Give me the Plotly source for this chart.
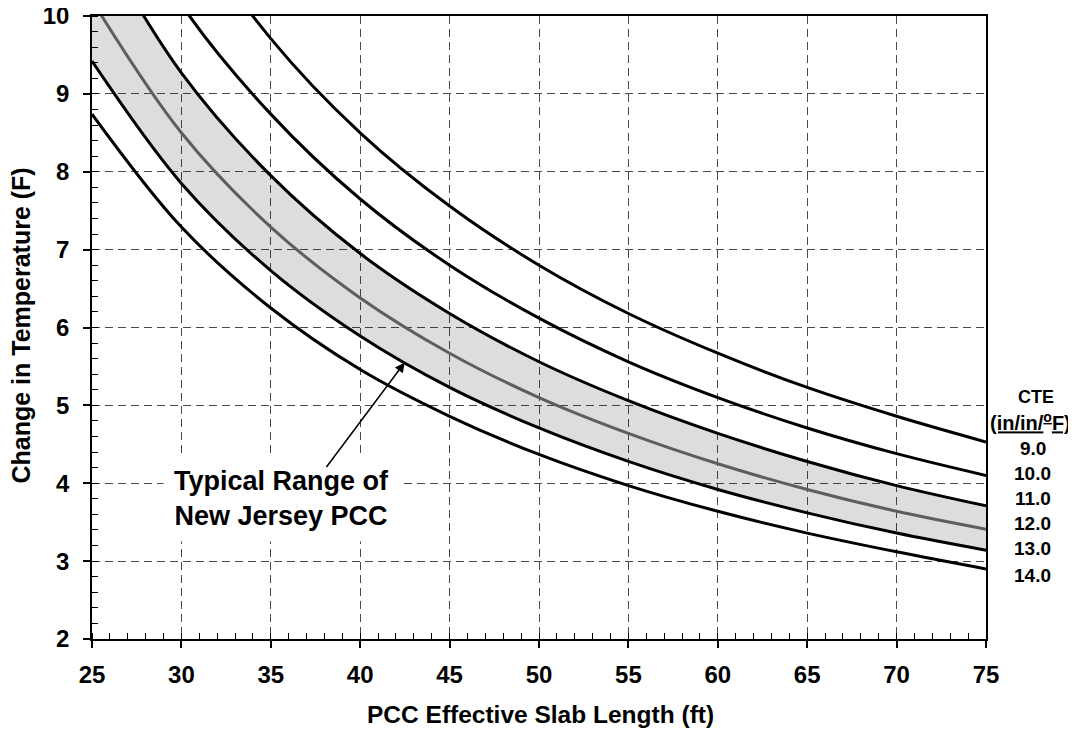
import plotly.graph_objects as go

# Slab length (ft)
slab_length = [25, 30, 35, 40, 45, 50, 55, 60, 65, 70, 75]

# Change in temperature (F) read for each CTE curve
cte_9 = [13.60, 11.33, 9.71, 8.50, 7.56, 6.80, 6.18, 5.67, 5.23, 4.86, 4.53]
cte_10 = [12.24, 10.15, 8.74, 7.65, 6.80, 6.12, 5.56, 5.10, 4.71, 4.38, 4.10]
cte_11 = [11.13, 9.27, 7.95, 6.95, 6.18, 5.56, 5.06, 4.64, 4.28, 3.97, 3.71]
cte_12 = [10.20, 8.50, 7.29, 6.38, 5.67, 5.10, 4.64, 4.25, 3.92, 3.64, 3.41]
cte_13 = [9.42, 7.85, 6.73, 5.89, 5.23, 4.71, 4.28, 3.92, 3.62, 3.36, 3.14]
cte_14 = [8.74, 7.29, 6.25, 5.46, 4.86, 4.37, 3.97, 3.64, 3.36, 3.12, 2.90]

cte_labels = ["9.0", "10.0", "11.0", "12.0", "13.0", "14.0"]
cte_label_y = [4.45, 4.13, 3.81, 3.48, 3.16, 2.82]

FONT = "Liberation Sans, Arial, sans-serif"

fig = go.Figure()

# shaded typical range (between CTE 11 and CTE 13)
fig.add_trace(go.Scatter(x=slab_length, y=cte_11, mode="lines",
                         line=dict(width=0, shape="spline", color="rgba(0,0,0,0)"),
                         hoverinfo="skip", showlegend=False))
fig.add_trace(go.Scatter(x=slab_length, y=cte_13, mode="lines", fill="tonexty",
                         fillcolor="rgba(0,0,0,0.135)",
                         line=dict(width=0, shape="spline", color="rgba(0,0,0,0)"),
                         hoverinfo="skip", showlegend=False))

for ys, col in [(cte_9, "black"), (cte_10, "black"), (cte_11, "black"),
                (cte_12, "#5e5e5e"), (cte_13, "black"), (cte_14, "black")]:
    fig.add_trace(go.Scatter(x=slab_length, y=ys, mode="lines",
                             line=dict(color=col, width=3, shape="spline"),
                             showlegend=False))

axis_common = dict(
    showline=True, linecolor="black", linewidth=1.5, mirror=True,
    showgrid=True, gridcolor="#4a4a4a", gridwidth=1, griddash="8px,5px",
    ticks="outside", ticklen=7, tickwidth=1.5, tickcolor="black",
    tickfont=dict(family=FONT, size=24, color="black", weight="bold"),
    zeroline=False, ticklabeloverflow="allow",
)

fig.update_xaxes(range=[25, 75], dtick=5, tick0=25, ticklabelstandoff=6,
                 minor=dict(dtick=1, ticks="inside", ticklen=6, tickwidth=1,
                            tickcolor="black", showgrid=False),
                 **axis_common)
fig.update_yaxes(range=[2, 10], dtick=1, tick0=2, ticklabelstandoff=9,
                 minor=dict(dtick=0.2, ticks="inside", ticklen=6, tickwidth=1,
                            tickcolor="black", showgrid=False),
                 **axis_common)

annotations = [
    dict(text="<b>PCC Effective Slab Length (ft)</b>", xref="paper", yref="paper",
         x=0.5013, y=-0.121, xanchor="center", yanchor="middle", showarrow=False,
         font=dict(family=FONT, size=24.5, color="black")),
    dict(text="<b>Change in Temperature (F)</b>", xref="paper", yref="paper",
         x=-0.0795, y=0.503, xanchor="center", yanchor="middle", showarrow=False,
         textangle=-90, font=dict(family=FONT, size=25, color="black")),
    dict(text="<b>Typical Range of<br>New Jersey PCC</b>", xref="x", yref="y",
         x=35.58, y=3.80, xanchor="center", yanchor="middle", showarrow=False,
         bgcolor="white", borderpad=10, align="center",
         font=dict(family=FONT, size=27, color="black")),
    dict(text="", xref="x", yref="y", x=42.49, y=5.55, axref="x", ayref="y",
         ax=38.05, ay=4.19, showarrow=True, arrowhead=2, arrowsize=1.3,
         arrowwidth=1.5, arrowcolor="black", standoff=0),
    dict(text="<b>CTE</b>", xref="paper", yref="paper",
         x=(1036 - 92.3) / 894, y=(638.7 - 396.5) / 623, xanchor="center",
         yanchor="middle", showarrow=False,
         font=dict(family=FONT, size=18, color="black")),
    dict(text="<b><u>(in/in/<sup>o</sup>F)</u></b>", xref="paper", yref="paper",
         x=(1030.5 - 92.3) / 894, y=(638.7 - 421) / 623, xanchor="center",
         yanchor="middle", showarrow=False,
         font=dict(family=FONT, size=20, color="black")),
]
for lab, yv in zip(cte_labels, cte_label_y):
    annotations.append(dict(text="<b>" + lab + "</b>", xref="paper", yref="y",
                            x=(1033 - 92.3) / 894, y=yv, xanchor="center",
                            yanchor="middle", showarrow=False,
                            font=dict(family=FONT, size=19, color="black")))

# page body adds an 8px margin at the top-left of the figure
fig.update_layout(
    width=1068, height=723,
    margin=dict(l=84, r=90, t=8, b=92, autoexpand=False),
    paper_bgcolor="white", plot_bgcolor="white",
    showlegend=False,
    annotations=annotations,
)

fig.write_html("out.html")
